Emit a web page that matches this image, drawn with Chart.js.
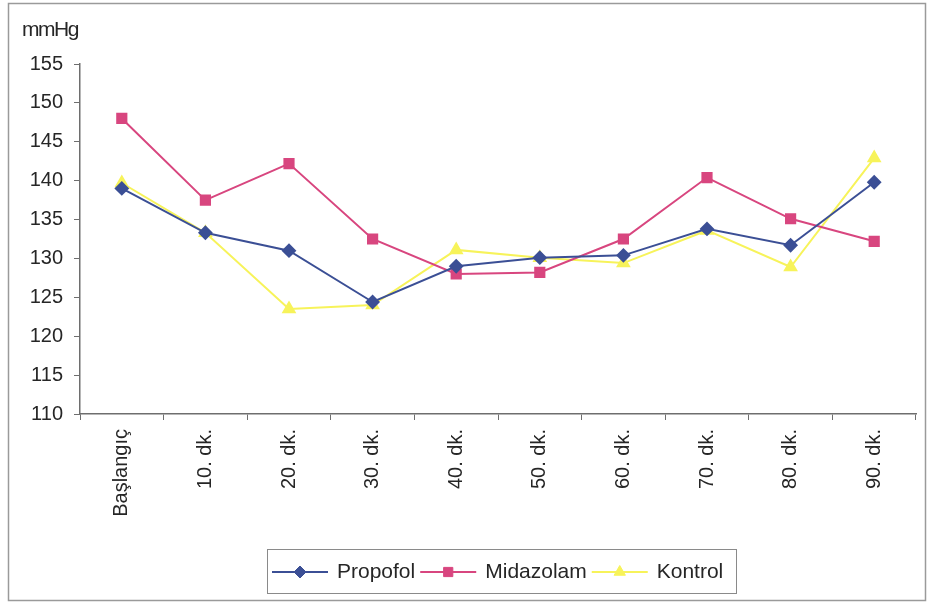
<!DOCTYPE html>
<html>
<head>
<meta charset="utf-8">
<script src="https://cdn.jsdelivr.net/npm/chart.js@4/dist/chart.umd.min.js"></script>
<style>
  html, body { margin: 0; padding: 0; background: #fff; }
  #wrap { width: 928px; height: 603px; position: relative; }
</style>
</head>
<body>
<div id="wrap"><canvas id="c" width="928" height="603"></canvas></div>
<script>
// Time points of measurement
const categories = ['Başlangıç', '10. dk.', '20. dk.', '30. dk.', '40. dk.', '50. dk.', '60. dk.', '70. dk.', '80. dk.', '90. dk.'];
// Blood pressure (mmHg) per group
const propofol  = [139.0, 133.3, 131.0, 124.4, 129.0, 130.1, 130.4, 133.8, 131.7, 139.8];
const midazolam = [148.0, 137.5, 142.2, 132.5, 128.0, 128.2, 132.5, 140.4, 135.1, 132.2];
const kontrol   = [139.7, 133.3, 123.5, 124.0, 131.1, 130.1, 129.4, 133.6, 128.9, 142.9];
const seriesNames = ['Propofol', 'Midazolam', 'Kontrol'];
const yTicks = [110, 115, 120, 125, 130, 135, 140, 145, 150, 155];
const unitLabel = 'mmHg';

const FONT = '"Liberation Sans", Arial, sans-serif';
const TEXT = '#262626';
const AXIS = '#6e6e6e';

// Legend drawn as line + marker, like a classic spreadsheet chart legend
const lineLegend = {
  id: 'lineLegend',
  afterDraw(chart) {
    const ctx = chart.ctx;
    const box = { x: 267, y: 549, w: 469, h: 44 };
    ctx.save();
    ctx.strokeStyle = '#8a8a8a';
    ctx.lineWidth = 1;
    ctx.strokeRect(box.x + 0.5, box.y + 0.5, box.w, box.h);
    ctx.font = '21px ' + FONT;
    ctx.textBaseline = 'middle';
    const cy = box.y + box.h / 2 + 1;
    let x = box.x + 5;
    chart.data.datasets.forEach(ds => {
      const segLen = 56;
      ctx.strokeStyle = ds.borderColor;
      ctx.lineWidth = 2;
      ctx.beginPath();
      ctx.moveTo(x, cy);
      ctx.lineTo(x + segLen, cy);
      ctx.stroke();
      ctx.fillStyle = ds.pointBackgroundColor;
      ctx.strokeStyle = ds.pointBorderColor;
      ctx.lineWidth = 1;
      Chart.helpers.drawPoint(ctx, {
        pointStyle: ds.pointStyle,
        radius: ds.pointRadius,
        borderWidth: 1,
        rotation: 0
      }, x + segLen / 2, cy);
      ctx.fillStyle = TEXT;
      ctx.textAlign = 'left';
      const tx = x + segLen + 9;
      ctx.fillText(ds.label, tx, cy);
      x = tx + ctx.measureText(ds.label).width + 5;
    });
    ctx.restore();
  }
};

// Unit caption above the value axis and frame around the whole chart
const decorations = {
  id: 'decorations',
  beforeDraw(chart) {
    const ctx = chart.ctx;
    ctx.save();
    ctx.fillStyle = '#fff';
    ctx.fillRect(0, 0, chart.width, chart.height);
    ctx.strokeStyle = '#9a9a9a';
    ctx.lineWidth = 1.5;
    ctx.strokeRect(8.5, 3.5, 917, 597);
    ctx.restore();
  },
  afterDraw(chart) {
    const ctx = chart.ctx;
    ctx.save();
    ctx.font = '21px ' + FONT;
    ctx.fillStyle = TEXT;
    ctx.textBaseline = 'alphabetic';
    ctx.textAlign = 'left';
    if ('letterSpacing' in ctx) ctx.letterSpacing = '-1.5px';
    ctx.fillText(unitLabel, 22, 36);
    ctx.restore();
  }
};

const mk = (label, data, color, style, r) => ({
  label, data,
  borderColor: color,
  backgroundColor: color,
  pointBackgroundColor: color,
  pointBorderColor: color,
  pointStyle: style,
  pointRadius: r,
  pointHoverRadius: r,
  borderWidth: 2,
  tension: 0
});

new Chart(document.getElementById('c'), {
  type: 'line',
  data: {
    labels: categories,
    datasets: [
      mk(seriesNames[0], propofol, '#3b4f95', 'rectRot', 6),
      mk(seriesNames[1], midazolam, '#d8467f', 'rect', 6.5),
      mk(seriesNames[2], kontrol, '#f7f35a', 'triangle', 6.5)
    ]
  },
  options: {
    responsive: false,
    animation: false,
    devicePixelRatio: 1,
    layout: { padding: { left: 0, right: 12, top: 64, bottom: 0 } },
    plugins: {
      legend: { display: false },
      title: { display: false },
      tooltip: { enabled: false }
    },
    scales: {
      x: {
        type: 'category',
        offset: true,
        grid: {
          display: true,
          offset: true,
          drawOnChartArea: false,
          drawTicks: true,
          tickLength: 6,
          color: AXIS
        },
        border: { display: true, color: AXIS, width: 1.5 },
        ticks: {
          autoSkip: false,
          minRotation: 90,
          maxRotation: 90,
          padding: 9,
          color: TEXT,
          font: { family: FONT, size: 20 }
        },
        afterFit(s) { s.height = 189; }
      },
      y: {
        min: 110,
        max: 155,
        afterBuildTicks(s) { s.ticks = yTicks.map(v => ({ value: v })); },
        grid: {
          display: true,
          drawOnChartArea: false,
          drawTicks: true,
          tickLength: 6,
          color: AXIS
        },
        border: { display: true, color: AXIS, width: 1.5 },
        ticks: {
          padding: 11,
          color: TEXT,
          font: { family: FONT, size: 20 }
        },
        afterFit(s) { s.width = 80; }
      }
    }
  },
  plugins: [decorations, lineLegend]
});
</script>
</body>
</html>
